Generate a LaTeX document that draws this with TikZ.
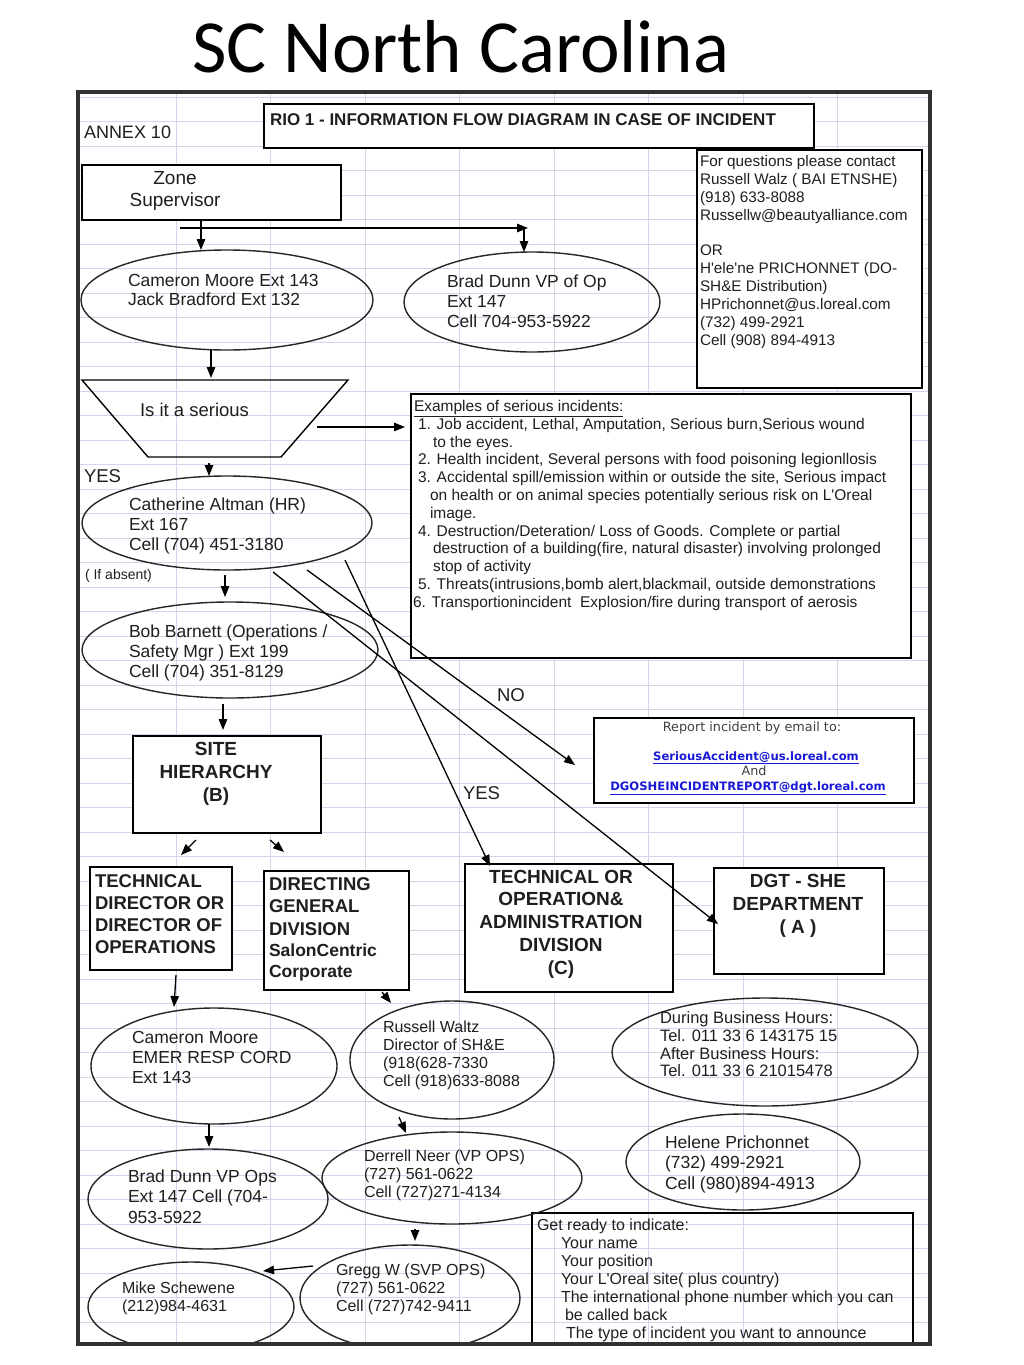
\documentclass[tikz,border=0pt]{standalone}
\usepackage{fontspec}
\setmainfont{Liberation Sans}
\newfontfamily\titlefont{Carlito}
\newfontfamily\dvfont{DejaVu Sans}
\usetikzlibrary{shapes.geometric,arrows.meta}
\definecolor{gridc}{RGB}{212,212,234}
\definecolor{linkc}{RGB}{25,25,215}
\definecolor{framec}{RGB}{50,50,50}
\newcommand{\fsz}[2]{\fontsize{#1}{#2}\selectfont}
\newcommand{\TL}[7][]{\node[txt,font={\fsz{#5}{#6}#1}] (#2) at (#3,{#4-0.37*#5}) {#7};}
\newcommand{\TC}[7][]{\node[ctxt,font={\fsz{#5}{#6}#1}] (#2) at (#3,{#4-0.37*#5}) {#7};}
\newcommand{\BX}[5]{\node[box,minimum width=#4,minimum height=#5] (#1) at (#2,#3) {};}
\newcommand{\EL}[5]{\node[ell,minimum width=#4,minimum height=#5] (#1) at (#2,#3) {};}
\newcommand{\apo}{\textquotesingle}
\begin{document}
\begin{tikzpicture}[x=1pt,y=-1pt,
 box/.style={draw=black,line width=1.4pt,inner sep=0pt,outer sep=0pt,anchor=north west,fill=white},
 openbox/.style={draw=black,line width=1.4pt,inner sep=0pt,outer sep=0pt,anchor=north west},
 ell/.style={draw=black!85,ellipse,line width=1.4pt,inner sep=0pt,outer sep=0pt},
 txt/.style={inner sep=0pt,outer sep=0pt,anchor=north west,align=left,text=black!88},
 ctxt/.style={inner sep=0pt,outer sep=0pt,anchor=north,align=center,text=black!88},
 arr/.style={-{Triangle[length=11pt,width=8.5pt]},line width=1.3pt},
 ln/.style={line width=1.4pt}]
\fill[white] (0,0) rectangle (1024,1365);
\useasboundingbox (0,0) rectangle (1024,1365);
\node[anchor=base west,inner sep=0pt,font=\titlefont\fsz{75}{80}] (ttl) at (192,72) {SC North Carolina};
\begin{scope}
\clip (80,94) rectangle (928,1342);
\foreach \k in {0,...,51} {\draw[gridc,line width=0.8pt] (80,{97+24.5*\k}) -- (930,{97+24.5*\k});}
\foreach \k in {0,...,7} {\draw[gridc,line width=0.8pt] ({176+94.5*\k},92) -- ({176+94.5*\k},1344);}
% boxes
\BX{titleb}{264}{104}{550}{44}
\BX{contb}{697}{150}{225}{238}
\BX{zone}{82}{165}{259}{55}
\BX{ex}{411}{394}{500}{264}
\BX{rep}{594}{718}{320}{85}
\BX{site}{133}{736}{188}{97}
\BX{td}{90}{867}{142}{103}
\BX{dir}{264}{871}{145}{119}
\BX{tob}{465}{864}{208}{128}
\BX{dgt}{714}{868}{170}{106}
\node[openbox,minimum width=381,minimum height=150] (ready) at (532,1213) {};
% trapezoid
\draw[ln] (82,380) -- (348,380) -- (281,457) -- (148,457) -- cycle;
\coordinate (qtop) at (211,378);
\coordinate (qright) at (317,427);
\coordinate (qbot) at (209,463);
% ellipses
\EL{cam1}{227}{300}{292}{100}
\EL{brad1}{532}{302}{256}{100}
\EL{cath}{227}{523}{290}{94}
\EL{bob}{230}{650}{296}{96}
\EL{cam2}{214}{1066}{246}{116}
\EL{russ}{452}{1060}{204}{118}
\EL{dur}{765}{1052}{306}{108}
\EL{brad2}{208}{1199}{240}{100}
\EL{derr}{452}{1178}{260}{92}
\EL{hel}{743}{1162}{234}{96}
\EL{gregg}{410}{1298}{220}{106}
\EL{mike}{191}{1307}{206}{90}
% texts
\TL{annex}{84}{133}{18}{20}{ANNEX 10}
\TL[\bfseries]{titlet}{270}{120}{17}{20}{RIO 1 - INFORMATION FLOW DIAGRAM IN CASE OF INCIDENT}
\TL{contt}{700}{161}{15.3}{18}{For questions please contact\\Russell Walz ( BAI ETNSHE)\\(918) 633-8088\\Russellw@beautyalliance.com\\[17pt]OR\\H\apo ele\apo ne PRICHONNET (DO-\\SH\&E Distribution)\\HPrichonnet@us.loreal.com\\(732) 499-2921\\Cell (908) 894-4913}
\TC{zonet}{175}{178}{19}{22}{Zone\\Supervisor}
\TL{cam1t}{128}{281}{17.5}{19}{Cameron Moore Ext 143\\Jack Bradford Ext 132}
\TL{brad1t}{447}{281}{17.5}{20}{Brad Dunn VP of Op\\Ext 147\\Cell 704-953-5922}
\TL{qt}{140}{410}{18.5}{20}{Is it a serious}
\TL{ext}{413}{406}{15.5}{17.8}{\hspace*{1pt}\underline{Examples of serious incidents:}\\
\hspace*{5pt}1. Job accident, Lethal, Amputation, Serious burn,Serious wound\\
\hspace*{20pt}to the eyes.\\
\hspace*{5pt}2. Health incident, Several persons with food poisoning legionllosis\\
\hspace*{5pt}3. Accidental spill/emission within or outside the site, Serious impact\\
\hspace*{17pt}on health or on animal species potentially serious risk on L\apo Oreal\\
\hspace*{17pt}image.\\
\hspace*{5pt}4. Destruction/Deteration/ Loss of Goods. Complete or partial\\
\hspace*{20pt}destruction of a building(fire, natural disaster) involving prolonged\\
\hspace*{20pt}stop of activity\\
\hspace*{5pt}5. Threats(intrusions,bomb alert,blackmail, outside demonstrations\\
6. Transportionincident\ \ Explosion/fire during transport of aerosis}
\TL{yes1}{84}{476}{18.5}{20}{YES}
\TL{catht}{129}{504}{17.5}{20}{Catherine Altman (HR)\\Ext 167\\Cell (704) 451-3180}
\TL{absent}{85}{575}{14}{16}{( If absent)}
\TL{bobt}{129}{631}{17.5}{20}{Bob Barnett (Operations /\\Safety Mgr ) Ext 199\\Cell (704) 351-8129}
\TL{no}{497}{695}{18.5}{20}{NO}
\TL{yes2}{463}{793}{18.5}{20}{YES}
\node[anchor=base,inner sep=0pt,font=\dvfont\fsz{12.8}{14},text=black!75] (rep1) at (752,731) {Report incident by email to:};
\node[anchor=base,inner sep=0pt,font=\dvfont\bfseries\fsz{11.6}{13},text=linkc] (rep2) at (756,760) {\underline{SeriousAccident@us.loreal.com}};
\node[anchor=base,inner sep=0pt,font=\dvfont\fsz{12.8}{14},text=black!75] (rep3) at (754,775) {And};
\node[anchor=base,inner sep=0pt,font=\dvfont\bfseries\fsz{11.6}{13},text=linkc] (rep4) at (748,790) {\underline{DGOSHEINCIDENTREPORT@dgt.loreal.com}};
\TC[\bfseries]{sitet}{216}{749}{19}{23}{SITE\\HIERARCHY\\(B)}
\TL[\bfseries]{tdt}{95}{881}{18.5}{22}{TECHNICAL\\DIRECTOR OR\\DIRECTOR OF\\OPERATIONS}
\TL[\bfseries]{dirt}{269}{884}{18.5}{22.5}{DIRECTING\\GENERAL\\DIVISION}
\TL[\bfseries]{dirt2}{269}{950}{17.5}{21}{SalonCentric\\Corporate}
\TC[\bfseries]{tot}{561}{877}{19}{22.7}{TECHNICAL OR\\OPERATION\&\\ADMINISTRATION\\DIVISION\\(C)}
\TC[\bfseries]{dgtt}{798}{881}{19}{23}{DGT - SHE\\DEPARTMENT\\( A )}
\TL{cam2t}{132}{1038}{17.5}{20}{Cameron Moore\\EMER RESP CORD\\Ext 143}
\TL{russt}{383}{1027}{16}{18}{Russell Waltz\\Director of SH\&E\\(918(628-7330\\Cell (918)633-8088}
\TL{durt}{660}{1018}{16.5}{17.7}{During Business Hours:\\Tel. 011 33 6 143175 15\\After Business Hours:\\Tel. 011 33 6 21015478}
\TL{helt}{665}{1142}{17.5}{20.5}{Helene Prichonnet\\(732) 499-2921\\Cell (980)894-4913}
\TL{brad2t}{128}{1176}{17.5}{20.5}{Brad Dunn VP Ops\\Ext 147 Cell (704-\\953-5922}
\TL{dert}{364}{1156}{16}{18}{Derrell Neer (VP OPS)\\(727) 561-0622\\Cell (727)271-4134}
\TL{gregt}{336}{1270}{16}{18}{Gregg W (SVP OPS)\\(727) 561-0622\\Cell (727)742-9411}
\TL{miket}{122}{1288}{16}{18}{Mike Schewene\\(212)984-4631}
\TL{readyt}{537}{1225}{16}{18}{Get ready to indicate:\\\hspace*{24pt}Your name\\\hspace*{24pt}Your position\\\hspace*{24pt}Your L\apo Oreal site( plus country)\\\hspace*{24pt}The international phone number which you can\\\hspace*{28pt}be called back\\\hspace*{29pt}The type of incident you want to announce}
% arrows
\draw[arr] ([xshift=-10.5pt]zone.south) -- ([xshift=-26pt]cam1.north);
\draw[arr] ([xshift=-31.5pt,yshift=-8pt]zone.south) -- ([xshift=-4pt,yshift=24pt]brad1.north);
\draw[arr] ([xshift=-8pt,yshift=23pt]brad1.north) -- ([xshift=-8pt]brad1.north);
\draw[arr] ([xshift=-16pt]cam1.south) -- (qtop);
\draw[arr] (qright) -- ([xshift=-6pt,yshift=-33pt]ex.north west);
\draw[arr] (qbot) -- ([xshift=-18pt]cath.north);
\draw[arr] ([xshift=-2pt,yshift=-5pt]cath.south) -- ([xshift=-5pt,yshift=5pt]bob.north);
\draw[arr] ([xshift=-7pt,yshift=-6pt]bob.south) -- ([xshift=-4pt,yshift=6pt]site.north);
\draw[arr] ([xshift=80pt,yshift=-47pt]cath.center) -- ([xshift=-19pt,yshift=-4.5pt]rep.west);
\draw[arr] ([xshift=46pt,yshift=-49pt]cath.center) -- ([xshift=4pt,yshift=-3pt]dgt.west);
\draw[arr] ([xshift=118pt,yshift=-37pt]cath.center) -- ([xshift=25pt,yshift=-2pt]tob.north west);
\draw[arr] ([xshift=-31pt,yshift=-7pt]site.south) -- ([xshift=20pt,yshift=12pt]td.north);
\draw[arr] ([xshift=43pt,yshift=-7pt]site.south) -- ([xshift=-52.5pt,yshift=19pt]dir.north);
\draw[arr] ([xshift=15pt,yshift=-5pt]td.south) -- ([xshift=-40pt,yshift=1pt]cam2.north);
\draw[arr] ([xshift=45.5pt,yshift=-2pt]dir.south) -- ([xshift=-61pt,yshift=-2pt]russ.north);
\draw[arr] ([xshift=-5pt]cam2.south) -- ([xshift=1pt,yshift=2pt]brad2.north);
\draw[arr] ([xshift=-53pt,yshift=2pt]russ.south) -- ([xshift=-46pt,yshift=-1pt]derr.north);
\draw[arr] ([xshift=-37pt,yshift=-5pt]derr.south) -- ([xshift=5pt,yshift=4pt]gregg.north);
\draw[arr] ([xshift=13pt,yshift=32pt]gregg.west) -- ([xshift=72pt,yshift=-9pt]mike.north);
\end{scope}
\draw[framec,line width=4pt] (78,92) rectangle (930,1344);
\end{tikzpicture}
\end{document}
